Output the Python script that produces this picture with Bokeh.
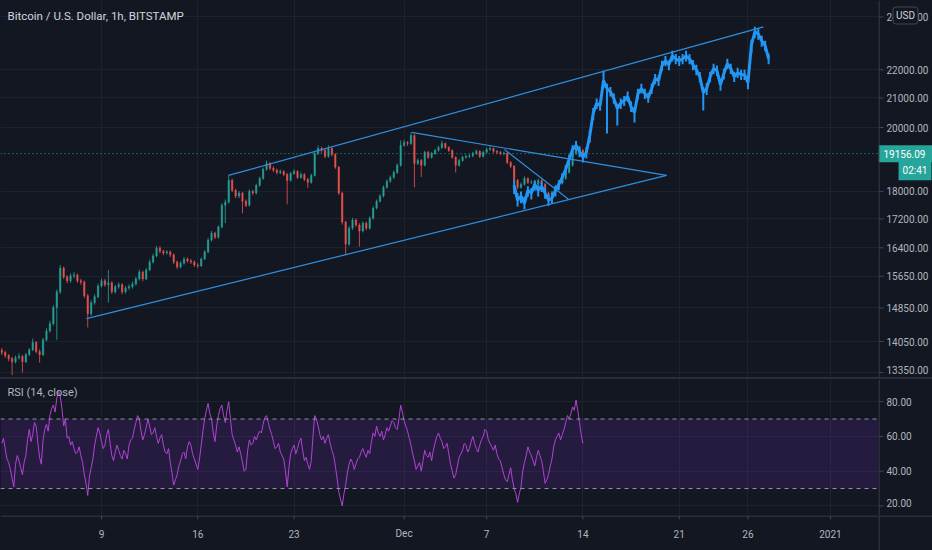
import numpy as np
import pandas as pd
from bokeh.plotting import figure
from bokeh.layouts import column, row
from bokeh.models import (Range1d, FixedTicker, Span, BoxAnnotation,
                          Label, ColumnDataSource, Div, GlobalInlineStyleSheet)
from bokeh.core.properties import value
from bokeh.embed import file_html
from bokeh.resources import INLINE

# ---------------- data ----------------
T0 = pd.Timestamp("2020-11-01 00:00")
candle_start = "2020-11-01 18:00"      # 6h candles
first_open = 13850

close = [13800,13730,13660,13590,13680,13710,13590,13750,13860,14030,
         13820,13750,14090,14300,14470,14860,15250,15860,15630,15530,
         15660,15680,15530,15500,15150,14710,14980,15130,15400,15530,
         15430,15480,15250,15380,15430,15250,15350,15380,15450,15580,
         15760,15580,15810,16020,16180,16390,16310,16260,16290,16210,
         16020,15890,15990,16100,16050,16020,15940,15920,16100,16290,
         16610,16800,16690,16970,17590,17680,18330,18030,17860,17950,
         17710,17590,18000,17950,18180,18390,18670,18850,18700,18640,
         18570,18600,18510,18330,18540,18600,18420,18510,18360,18270,
         18480,19160,19320,19260,19070,19320,19130,18730,17950,17110,
         16500,16940,17170,17030,16860,17080,16940,17220,17510,17710,
         17860,18120,18300,18420,18570,18790,19420,19510,19480,19740,
         18850,18940,18790,19200,19040,19160,19260,19350,19480,19350,
         19260,19040,18790,18940,19040,19070,19090,19160,19230,19070,
         19200,19290,19320,19230,19200,19160,19170,18880,18760,18330,
         18120,18210,18390,18270,18280,18210,18330,18210,17950,17770,
         17970,18150,18240,18390,18570,18790,19160,19350,19260,19156.09]

high = [13900,13840,13760,13700,13730,13780,13750,13790,13900,14120,
        14060,13870,14130,14360,14540,14920,15310,15940,15900,15680,
        15720,15760,15720,15580,15540,15200,15040,15190,15460,15590,
        15580,15810,15520,15430,15490,15470,15400,15440,15510,15630,
        15820,15790,15860,16080,16240,16450,16440,16350,16340,16330,
        16250,16060,16040,16150,16140,16100,16060,15990,16140,16340,
        16670,16860,16840,17020,17650,17760,18480,18380,18080,18010,
        17990,17760,18060,18050,18230,18440,18720,18940,18890,18760,
        18690,18660,18640,18560,18590,18670,18640,18570,18550,18400,
        18530,19220,19420,19380,19300,19420,19360,19170,18770,17990,
        17150,17000,17230,17210,17080,17130,17120,17270,17560,17760,
        17920,18180,18360,18480,18630,18850,19580,19600,19560,19840,
        19780,19000,18990,19250,19240,19210,19310,19410,19570,19510,
        19390,19290,19070,18990,19090,19130,19140,19210,19290,19260,
        19250,19350,19390,19350,19270,19240,19220,19200,18920,18800,
        18370,18270,18450,18420,18340,18310,18380,18360,18250,17990,
        18020,18200,18300,18440,18630,18840,19220,19420,19400,19300]

low = [13740,13680,13600,13290,13550,13640,13350,13560,13720,13830,
       13780,13570,13720,14050,14260,14430,14090,15200,15580,15470,
       15480,15600,15480,15430,15100,14380,14660,14930,15090,15360,
       15380,14980,15200,15210,15330,15190,15210,15300,15330,15410,
       15540,15520,15550,15780,15980,16150,16250,16200,16220,16150,
       15970,15830,15850,15950,16000,15970,15890,15860,15890,16070,
       16250,16570,16640,16650,16940,17080,17640,17980,17800,17800,
       17360,17540,17560,17890,17910,18140,18350,18620,18640,18580,
       18510,18520,18460,17620,18290,18500,18370,18380,18310,18100,
       18230,18450,19110,19180,19010,19030,19070,18680,17890,17040,
       16200,16450,16890,16970,16430,16820,16880,16900,17180,17470,
       17670,17820,18080,18260,18380,18530,18750,19380,19400,19440,
       18120,18800,18430,18760,18990,19000,19120,19220,19310,19300,
       19210,18990,18570,18750,18900,19000,19020,19040,19120,19020,
       19030,19160,19250,19180,19150,19110,19100,18830,18700,18270,
       18060,18080,18170,18220,18220,18160,18170,18160,17900,17590,
       17730,17930,18110,18200,18350,18540,18750,19110,19200,19100]

# RSI(14, close), 3h samples
rsi_start = "2020-11-01 18:00"
rsi = [56,59,53,47,45,41,36,31,44,49,46,42,38,45,49,58,64,57,61,68,
       66,56,48,44,58,64,67,63,72,76,78,74,82,86,83,76,66,70,59,60,
       55,57,53,50,51,54,49,45,38,33,26,37,42,47,55,60,65,62,57,53,
       55,61,64,56,49,46,51,55,52,49,47,52,50,47,55,58,59,64,68,72,
       70,63,58,61,65,70,66,61,62,65,60,56,59,61,55,51,50,53,45,39,
       32,35,38,43,46,50,51,47,54,57,55,50,47,44,41,47,55,63,70,75,
       79,73,70,62,57,66,72,76,78,72,68,75,80,70,61,58,55,51,54,50,
       45,40,41,52,58,55,56,60,58,61,63,62,67,71,72,68,64,61,57,53,
       54,56,51,49,47,40,31,42,50,53,55,50,53,57,59,52,46,48,44,41,
       46,60,72,70,66,61,58,60,56,59,61,56,52,49,43,36,28,24,20,27,
       32,39,44,47,45,41,44,47,48,51,53,50,48,52,50,57,62,60,66,62,
       60,63,58,61,65,63,66,69,68,65,64,70,78,74,69,66,63,59,55,50,
       46,41,43,45,40,46,52,49,48,51,46,52,56,60,62,59,57,53,54,56,
       50,44,40,36,38,43,48,50,52,56,55,51,53,57,60,56,53,51,55,58,
       60,64,63,58,56,54,52,55,50,47,46,42,38,35,34,38,42,35,30,27,
       22,27,31,40,45,49,54,51,49,46,43,48,52,49,46,40,33,35,38,43,
       47,54,58,60,62,58,61,64,68,72,70,73,77,75,81,75,68,61,56]

# projected path (bars-pattern drawing), 6h steps
proj_start = "2020-12-09 00:00"
proj_mid = [18180,17740,17860,17650,18030,17950,18210,18030,18150,17950,
            17740,17800,18030,18210,18420,18670,18980,19290,19420,19230,
            19040,19200,19740,20480,20820,20740,21610,21330,21220,20980,
            20640,20820,20910,21050,20700,20500,21150,21330,21150,21010,
            21330,21680,21610,22150,22330,22180,22510,22400,22330,22400,
            22510,22400,22180,22000,21750,21190,21330,21750,22040,21960,
            21460,21860,22220,22040,21750,21890,21820,21820,21540,22920,
            23420,23340,23070,22890,22400]
proj_high = [18330,17950,18000,17850,18150,18100,18330,18180,18280,18100,
             17900,17950,18150,18330,18550,18800,19120,19420,19560,19380,
             19180,19360,19920,20650,20980,20900,21960,21500,21380,21150,
             20800,20980,21070,21220,20880,20680,21320,21500,21320,21180,
             21500,21850,21800,22330,22500,22350,22700,22580,22500,22580,
             22700,22580,22360,22180,21920,21380,21520,21930,22220,22150,
             21650,22040,22400,22220,21930,22070,22000,22000,21720,23120,
             23620,23560,23270,23080,22600]
proj_low = [17920,17560,17650,17480,17850,17760,18020,17850,17980,17780,
            17580,17640,17850,18030,18250,18500,18800,19100,19250,19050,
            18880,19000,19500,20250,20620,20560,21350,19800,21050,20800,
            20070,20620,20720,20870,20520,20170,20950,21150,20960,20830,
            21140,21480,21420,21950,22130,21980,22300,22200,22140,22200,
            22300,22200,21980,21800,21550,20570,21100,21550,21850,21770,
            21250,21650,22030,21850,21560,21700,21630,21630,21300,22600,
            23180,23120,22850,22680,22200]

# trend-line drawings: lower channel, upper channel, triangle top, short down line
line_t0 = ["2020-11-07 21:50", "2020-11-18 05:30", "2020-12-01 13:00", "2020-12-08 07:10"]
line_p0 = [14590, 18480, 19840, 19290]
line_t1 = ["2020-12-20 02:00", "2020-12-27 03:00", "2020-12-20 02:00", "2020-12-12 22:50"]
line_p1 = [18480, 23610, 18480, 17770]

last_price = 19156.09
countdown = "02:41"
currency = "USD"
title_text = "Bitcoin / U.S. Dollar, 1h, BITSTAMP"
rsi_title = "RSI (14, close)"

price_ticks = [13350, 14050, 14850, 15650, 16400, 17200, 18000, 20000, 21000, 22000, 24000]
rsi_ticks = [20, 40, 60, 80]
rsi_bands = [30, 70]
time_ticks = ["2020-11-09", "2020-11-16", "2020-11-23", "2020-12-01", "2020-12-07",
              "2020-12-14", "2020-12-21", "2020-12-26", "2021-01-01"]
time_labels = ["9", "16", "23", "Dec", "7", "14", "21", "26", "2021"]

view_start = "2020-11-01 15:46"
view_end = "2021-01-04 11:46"
price_view = (13241, 24662)
rsi_view = (14.5, 92.75)

# ---------------- helpers / styles ----------------
def to_days(ts):
    idx = pd.DatetimeIndex(pd.to_datetime(ts))
    return ((idx - T0) / pd.Timedelta(days=1)).to_numpy(dtype=float)

BG = "#131722"
GRID = "#1e222d"
TEXT = "#b2b5be"
AXLINE = "#434651"
SEP = "#2a2e39"
UP = "#26a69a"
DOWN = "#ef5350"
BLUE = "#2196f3"
TL = "#2f8fe0"
FONT = "Roboto"

FRAME_W = 878
AX_W = 54
TOP_H = 377
SEP_H = 2
RSI_H = 136
XAX_H = 35

x0d, x1d = to_days([view_start, view_end])
xr = Range1d(x0d, x1d)

cx = to_days(pd.date_range(candle_start, periods=len(close), freq="6h"))
o = np.array([first_open] + close[:-1], dtype=float)
c = np.array(close, dtype=float)
colors = [UP if cc >= oo else DOWN for oo, cc in zip(o, c)]
csrc = ColumnDataSource(dict(x=cx, h=high, l=low, top=np.maximum(o, c),
                             bottom=np.minimum(o, c), color=colors))
rx = to_days(pd.date_range(rsi_start, periods=len(rsi), freq="3h"))
px = to_days(pd.date_range(proj_start, periods=len(proj_mid), freq="6h"))
tick_x = [float(v) for v in to_days(time_ticks)]


def make(w, h, xrange, yrange, log=False):
    fig = figure(frame_width=w, frame_height=h, x_range=xrange, y_range=yrange,
                 y_axis_type="log" if log else "linear",
                 x_axis_location=None, y_axis_location=None,
                 output_backend="svg", toolbar_location=None, min_border=0)
    fig.background_fill_color = BG
    fig.border_fill_color = BG
    fig.outline_line_color = None
    return fig


def side_axis(fig, ticks):
    """Right-hand value scale drawn inside a narrow frame."""
    fig.grid.grid_line_color = None
    fig.add_layout(Span(location=0.5, dimension="height", line_color=AXLINE, line_width=1))
    fig.segment(x0=0, y0=ticks, x1=5, y1=ticks, line_color=AXLINE, line_width=1)
    lowest = min(ticks)
    src = ColumnDataSource(dict(y=ticks, text=[f"{t:.2f}" for t in ticks],
                                dy=[-3 if t == lowest else 0 for t in ticks]))
    fig.text(x=8, y="y", text="text", y_offset="dy", source=src, text_color=TEXT,
             text_font=value(FONT), text_font_size=value("10px"), text_baseline="middle")


# ---------------- price pane ----------------
p = make(FRAME_W, TOP_H, xr, Range1d(*price_view), log=True)
p.ygrid.ticker = FixedTicker(ticks=price_ticks)
p.xgrid.ticker = FixedTicker(ticks=tick_x)
p.grid.grid_line_color = GRID

p.segment(x0="x", y0="h", x1="x", y1="l", line_color="color", line_width=1,
          line_alpha=0.8, source=csrc)
p.vbar(x="x", width=0.1, top="top", bottom="bottom", fill_color="color",
       line_color="color", line_width=0.6, fill_alpha=0.85, line_alpha=0.85, source=csrc)

p.segment(x0=px, y0=proj_low, x1=px, y1=proj_high, line_color=BLUE, line_width=2)
p.line(px, proj_mid, line_color=BLUE, line_width=3)

p.segment(x0=to_days(line_t0), y0=line_p0, x1=to_days(line_t1), y1=line_p1,
          line_color=TL, line_width=1.2)

p.add_layout(Span(location=last_price, dimension="width", line_color=UP,
                  line_dash="1 3", line_width=1))
p.add_layout(Label(x=7, y=TOP_H - 15, x_units="screen", y_units="screen", text=title_text,
                   text_font=FONT, text_font_size="11.5px", text_color="#d1d4dc",
                   text_baseline="middle"))

pa = make(AX_W, TOP_H, Range1d(0, AX_W), p.y_range, log=True)
side_axis(pa, price_ticks)
pa.rect(x=AX_W / 2, y=last_price, width=AX_W, height=17, height_units="screen",
        fill_color=UP, line_color=None)
pa.text(x=5, y=last_price, text=[f"{last_price:.2f}"], text_color="#ffffff",
        text_font=value(FONT), text_font_size=value("10px"), text_baseline="middle")
pa.add_layout(Label(x=36.5, y=last_price, y_offset=-17, text=countdown,
                    text_font=FONT, text_font_size="10px", text_color="#ffffff",
                    text_align="center", text_baseline="middle",
                    background_fill_color=UP, padding=4))
pa.add_layout(Label(x=27, y=price_view[1], y_offset=-15, text=currency,
                    text_font=FONT, text_font_size="10px", text_color="#d1d4dc",
                    text_align="center", text_baseline="middle",
                    background_fill_color=BG, border_line_color=AXLINE,
                    border_radius=3, padding=3))

# ---------------- RSI pane ----------------
r = make(FRAME_W, RSI_H, xr, Range1d(*rsi_view))
r.ygrid.ticker = FixedTicker(ticks=rsi_ticks)
r.xgrid.ticker = FixedTicker(ticks=tick_x)
r.grid.grid_line_color = GRID

r.add_layout(BoxAnnotation(bottom=rsi_bands[0], top=rsi_bands[1], fill_color="#6a2fb0",
                           fill_alpha=0.2, line_color=None, level="underlay"))
for lv in rsi_bands:
    r.add_layout(Span(location=lv, dimension="width", line_color="#9598a1",
                      line_dash="4 4", line_width=1))
r.line(rx, rsi, line_color="#b044d4", line_width=1)
r.add_layout(Label(x=7, y=RSI_H - 13, x_units="screen", y_units="screen", text=rsi_title,
                   text_font=FONT, text_font_size="11px", text_color=TEXT,
                   text_baseline="middle"))

ra = make(AX_W, RSI_H, Range1d(0, AX_W), r.y_range)
side_axis(ra, rsi_ticks)

# ---------------- time scale ----------------
tx = make(FRAME_W, XAX_H, xr, Range1d(0, XAX_H))
tx.grid.grid_line_color = None
tx.add_layout(Span(location=XAX_H - 0.5, dimension="width", line_color=AXLINE, line_width=1))
tx.segment(x0=tick_x, y0=XAX_H, x1=tick_x, y1=XAX_H - 4, line_color=AXLINE, line_width=1)
for tval, tlab in zip(tick_x, time_labels):
    tx.add_layout(Label(x=tval, y=XAX_H - 18, text=tlab, text_color=TEXT,
                        text_font=FONT, text_font_size="10px",
                        text_align="center", text_baseline="middle"))

tc = make(AX_W, XAX_H, Range1d(0, AX_W), Range1d(0, XAX_H))
tc.grid.grid_line_color = None
tc.add_layout(Span(location=XAX_H - 0.5, dimension="width", line_color=AXLINE, line_width=1))
tc.add_layout(Span(location=0.5, dimension="height", line_color=AXLINE, line_width=1))

sep = Div(text="", width=FRAME_W + AX_W, height=SEP_H, margin=0,
          styles={"background-color": SEP, "overflow": "hidden"})

layout = column(row(p, pa, spacing=0), sep, row(r, ra, spacing=0), row(tx, tc, spacing=0),
                spacing=0,
                stylesheets=[GlobalInlineStyleSheet(
                    css="html, body { margin: 0; padding: 0; background-color: #131722; overflow: hidden; }")])

open("out.html", "w").write(file_html(layout, INLINE))
